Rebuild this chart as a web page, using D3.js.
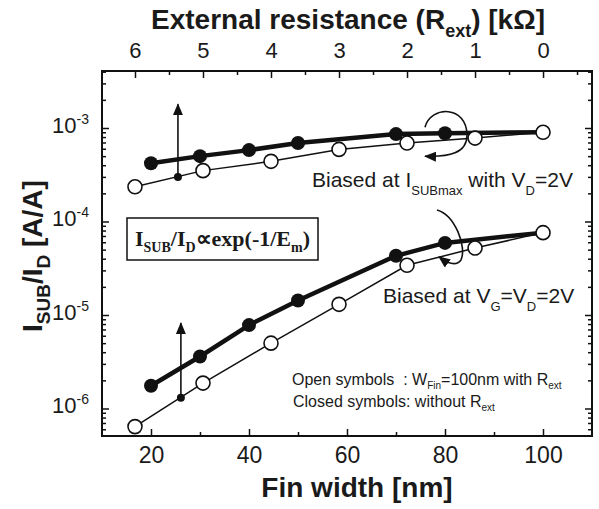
<!DOCTYPE html>
<html>
<head>
<meta charset="utf-8">
<script src="https://cdn.jsdelivr.net/npm/d3@7"></script>
<style>
body { margin: 0; background: #fff; }
svg text { font-family: "Liberation Sans", Arial, sans-serif; fill: #1a1a1a; white-space: pre; }
</style>
</head>
<body>
<div class="chart"></div>
<script>
// closed symbols: no Rext, plotted vs fin width (bottom axis)
const FIN_CLOSED = [20, 30, 40, 50, 70, 80, 100];
const ISUBMAX_CLOSED = [4.2e-4, 5.0e-4, 5.8e-4, 6.9e-4, 8.6e-4, 8.8e-4, 9.0e-4];
const VG_CLOSED = [1.75e-6, 3.6e-6, 7.8e-6, 1.43e-5, 4.3e-5, 5.9e-5, 7.6e-5];

// open symbols: Wfin = 100nm with Rext, plotted vs Rext (top axis)
const REXT_OPEN = [6, 5, 4, 3, 2, 1, 0];
const ISUBMAX_OPEN = [2.35e-4, 3.5e-4, 4.4e-4, 5.9e-4, 6.9e-4, 7.8e-4, 9.0e-4];
const VG_OPEN = [6.4e-7, 1.87e-6, 5.0e-6, 1.3e-5, 3.4e-5, 5.2e-5, 7.6e-5];

// vertical arrows (start dot on the open curve -> arrow tip)
const ARROW_FIN = [25.5, 26.1];
const ARROW_FROM = [3.0e-4, 1.3e-6];
const ARROW_TO = [1.8e-3, 8.2e-6];

const X_TICKS = [20, 40, 60, 80, 100];
const X_MINOR = [30, 50, 70, 90];
const R_TICKS = [6, 5, 4, 3, 2, 1, 0];
const R_MINOR = [5.5, 4.5, 3.5, 2.5, 1.5, 0.5, -0.5];
const Y_TICKS = [1e-3, 1e-4, 1e-5, 1e-6];
const Y_LABELS = ["-3", "-4", "-5", "-6"];

const FRAME_WIDTH = 599;
const FRAME_HEIGHT = 509;
const MARGINS = {left: 102, right: 7, top: 71, bottom: 73};
const WIDTH = FRAME_WIDTH - MARGINS.left - MARGINS.right;
const HEIGHT = FRAME_HEIGHT - MARGINS.top - MARGINS.bottom;

const SVG = d3.select(".chart").append("svg")
    .attr("width", FRAME_WIDTH)
    .attr("height", FRAME_HEIGHT);

const defs = SVG.append("defs");
defs.append("marker")
    .attr("id", "head")
    .attr("viewBox", "0 0 12 10")
    .attr("refX", 11).attr("refY", 5)
    .attr("markerWidth", 12).attr("markerHeight", 10)
    .attr("markerUnits", "userSpaceOnUse")
    .attr("orient", "auto")
  .append("path")
    .attr("d", "M0,0 L12,5 L0,10 Z")
    .attr("fill", "#111");

const PLOT = SVG.append("g")
    .attr("transform", "translate(" + MARGINS.left + "," + MARGINS.top + ")");

const X_SCALE = d3.scaleLinear().domain([10, 110]).range([0, WIDTH]);
const R_SCALE = d3.scaleLinear().domain([6.485, -0.72]).range([0, WIDTH]);
const Y_SCALE = d3.scaleLog().domain([5.08e-7, 4.07e-3]).range([HEIGHT, 0]);

const Y_MINOR = Y_SCALE.ticks().filter(d => Y_TICKS.indexOf(d) < 0);

// axes (ticks inward)
function tidy(g) {
    g.select(".domain").remove();
    g.selectAll(".tick line").attr("stroke", "#111").attr("stroke-width", 1.5);
}

PLOT.append("g")
    .attr("transform", "translate(0," + HEIGHT + ")")
    .call(d3.axisBottom(X_SCALE).tickValues(X_TICKS).tickSize(-7).tickPadding(11).tickFormat(d3.format("d")))
    .call(tidy)
    .attr("font-size", "23px");
PLOT.append("g")
    .attr("transform", "translate(0," + HEIGHT + ")")
    .call(d3.axisBottom(X_SCALE).tickValues(X_MINOR).tickSize(-4).tickFormat(""))
    .call(tidy);

PLOT.append("g")
    .call(d3.axisTop(R_SCALE).tickValues(R_TICKS).tickSize(-7).tickPadding(13).tickFormat(d3.format("d")))
    .call(tidy)
    .attr("font-size", "22px");
PLOT.append("g")
    .call(d3.axisTop(R_SCALE).tickValues(R_MINOR).tickSize(-4).tickFormat(""))
    .call(tidy);

PLOT.append("g")
    .call(d3.axisLeft(Y_SCALE).tickValues(Y_TICKS).tickSize(-7).tickFormat(""))
    .call(tidy);
PLOT.append("g")
    .call(d3.axisLeft(Y_SCALE).tickValues(Y_MINOR).tickSize(-4).tickFormat(""))
    .call(tidy);
PLOT.append("g")
    .attr("transform", "translate(" + WIDTH + ",0)")
    .call(d3.axisRight(Y_SCALE).tickValues(Y_TICKS).tickSize(-7).tickFormat(""))
    .call(tidy);
PLOT.append("g")
    .attr("transform", "translate(" + WIDTH + ",0)")
    .call(d3.axisRight(Y_SCALE).tickValues(Y_MINOR).tickSize(-4).tickFormat(""))
    .call(tidy);

PLOT.selectAll("text.tick").data(Y_TICKS).enter().append("text")
    .attr("x", -13)
    .attr("y", d => Y_SCALE(d) + 5)
    .attr("text-anchor", "end")
    .attr("font-size", "22px")
    .each(function(d, i) {
        const t = d3.select(this);
        t.append("tspan").text("10");
        t.append("tspan").attr("font-size", "14px").attr("dy", -9).text(Y_LABELS[i]);
    });

PLOT.append("rect")
    .attr("width", WIDTH).attr("height", HEIGHT)
    .attr("fill", "none").attr("stroke", "#111").attr("stroke-width", 2);

// rich text helper: parts = [[text, "sub"|"sup"|""], ...]
function rich(parent, x, y, parts, size, subSize, shift) {
    const t = parent.append("text").attr("x", x).attr("y", y).attr("font-size", size + "px");
    let cur = 0;
    parts.forEach(p => {
        const want = p[1] === "sub" ? shift : (p[1] === "sup" ? -shift : 0);
        t.append("tspan")
            .attr("dy", want - cur)
            .attr("font-size", (p[1] ? subSize : size) + "px")
            .text(p[0]);
        cur = want;
    });
    return t;
}

// data
const closedUp = FIN_CLOSED.map((d, i) => ({x: X_SCALE(d), y: Y_SCALE(ISUBMAX_CLOSED[i])}));
const closedLo = FIN_CLOSED.map((d, i) => ({x: X_SCALE(d), y: Y_SCALE(VG_CLOSED[i])}));
const openUp = REXT_OPEN.map((d, i) => ({x: R_SCALE(d), y: Y_SCALE(ISUBMAX_OPEN[i])}));
const openLo = REXT_OPEN.map((d, i) => ({x: R_SCALE(d), y: Y_SCALE(VG_OPEN[i])}));

const line = d3.line().x(d => d.x).y(d => d.y);

[openUp, openLo].forEach(s => {
    PLOT.append("path").attr("d", line(s))
        .attr("fill", "none").attr("stroke", "#111").attr("stroke-width", 1.5);
});
[closedUp, closedLo].forEach(s => {
    PLOT.append("path").attr("d", line(s))
        .attr("fill", "none").attr("stroke", "#111").attr("stroke-width", 4.5);
});

// vertical arrows
ARROW_FIN.forEach((f, i) => {
    PLOT.append("line")
        .attr("x1", X_SCALE(f)).attr("x2", X_SCALE(f))
        .attr("y1", Y_SCALE(ARROW_FROM[i])).attr("y2", Y_SCALE(ARROW_TO[i]))
        .attr("stroke", "#111").attr("stroke-width", 1.6)
        .attr("marker-end", "url(#head)");
    PLOT.append("circle")
        .attr("cx", X_SCALE(f)).attr("cy", Y_SCALE(ARROW_FROM[i]))
        .attr("r", 4).attr("fill", "#111");
});

[closedUp, closedLo].forEach(s => {
    PLOT.selectAll(null).data(s.slice(0, -1)).enter().append("circle")
        .attr("cx", d => d.x).attr("cy", d => d.y)
        .attr("r", 7).attr("fill", "#111");
});
[openUp, openLo].forEach(s => {
    PLOT.selectAll(null).data(s).enter().append("circle")
        .attr("cx", d => d.x).attr("cy", d => d.y)
        .attr("r", 7).attr("fill", "#fff").attr("stroke", "#111").attr("stroke-width", 1.6);
});

// curved rotation arrows around the 80 nm points
const cu = closedUp[5], cl = closedLo[5];
PLOT.append("path")
    .attr("d", "M" + (cu.x - 20) + "," + (cu.y - 6) +
        " C" + (cu.x - 14) + "," + (cu.y - 28) + " " + (cu.x + 22) + "," + (cu.y - 28) + " " + (cu.x + 22) + "," + (cu.y + 2) +
        " C" + (cu.x + 22) + "," + (cu.y + 20) + " " + (cu.x + 4) + "," + (cu.y + 24) + " " + (cu.x - 20) + "," + (cu.y + 23))
    .attr("fill", "none").attr("stroke", "#111").attr("stroke-width", 1.6)
    .attr("marker-end", "url(#head)");
PLOT.append("path")
    .attr("d", "M" + (cl.x - 8) + "," + (cl.y - 33) +
        " C" + (cl.x + 10) + "," + (cl.y - 28) + " " + (cl.x + 22) + "," + (cl.y + 4) + " " + (cl.x + 16) + "," + (cl.y + 17) +
        " C" + (cl.x + 11) + "," + (cl.y + 24) + " " + (cl.x + 2) + "," + (cl.y + 20) + " " + (cl.x - 6) + "," + (cl.y + 14))
    .attr("fill", "none").attr("stroke", "#111").attr("stroke-width", 1.6)
    .attr("marker-end", "url(#head)");

// annotations (page coordinates)
rich(SVG, 312, 187, [["Biased at I", ""], ["SUBmax", "sub"], [" with V", ""], ["D", "sub"], ["=2V", ""]], 21, 13, 8);
rich(SVG, 383, 303, [["Biased at V", ""], ["G", "sub"], ["=V", ""], ["D", "sub"], ["=2V", ""]], 21, 13, 8);
rich(SVG, 292, 385, [["Open symbols  : W", ""], ["Fin", "sub"], ["=100nm with R", ""], ["ext", "sub"]], 16, 10, 4);
rich(SVG, 293, 407, [["Closed symbols: without R", ""], ["ext", "sub"]], 16, 10, 4);

SVG.append("rect")
    .attr("x", 127).attr("y", 218).attr("width", 191).attr("height", 42)
    .attr("fill", "#fff").attr("stroke", "#111").attr("stroke-width", 1.5);
rich(SVG, 135, 246, [["I", ""], ["SUB", "sub"], ["/I", ""], ["D", "sub"], ["\u221dexp(-1/E", ""], ["m", "sub"], [")", ""]], 22, 14, 6)
    .style("font-family", "'Liberation Serif', 'Times New Roman', serif")
    .attr("font-weight", "bold");

// axis titles
rich(SVG, 348, 29, [["External resistance (R", ""], ["ext", "sub"], [") [k\u03a9]", ""]], 28, 18, 8)
    .attr("text-anchor", "middle").attr("font-weight", "bold");
SVG.append("text")
    .attr("x", 357).attr("y", 497)
    .attr("text-anchor", "middle").attr("font-size", "28px").attr("font-weight", "bold")
    .text("Fin width [nm]");
rich(SVG, 0, 0, [["I", ""], ["SUB", "sub"], ["/I", ""], ["D", "sub"], [" [A/A]", ""]], 28, 19, 8)
    .attr("text-anchor", "middle").attr("font-weight", "bold")
    .attr("transform", "translate(42,256) rotate(-90)");
</script>
</body>
</html>
